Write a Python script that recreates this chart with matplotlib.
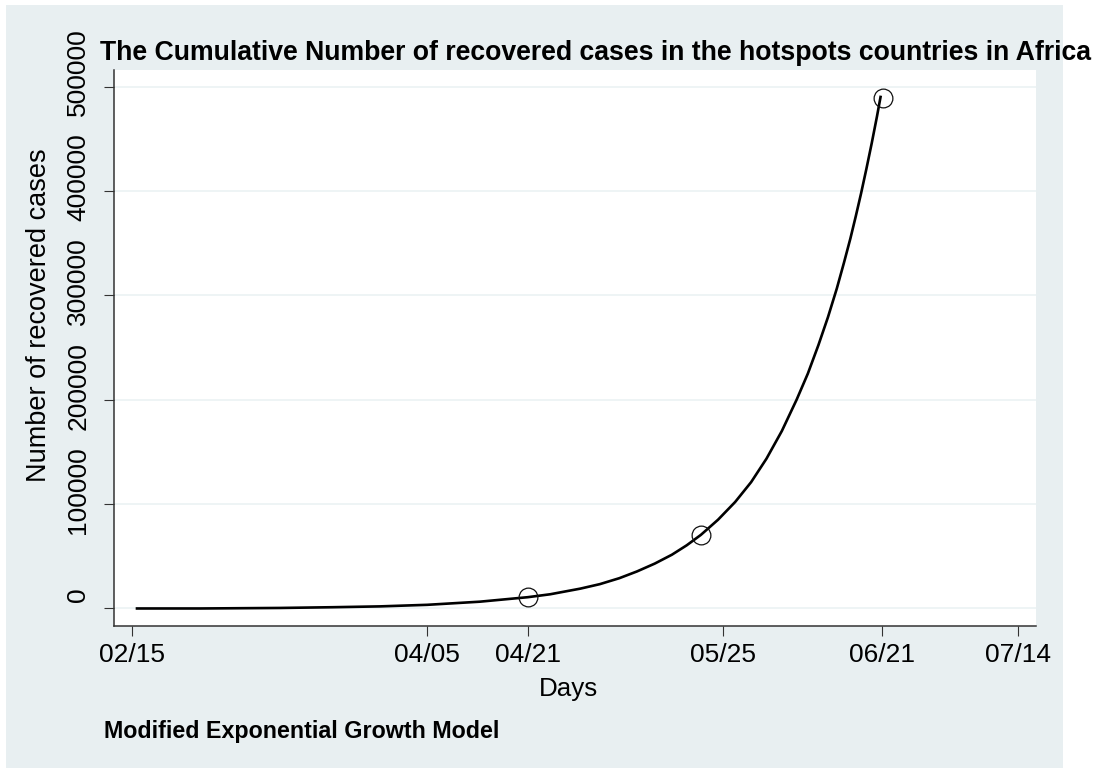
import matplotlib

matplotlib.use("Agg")
import matplotlib.pyplot as plt
from matplotlib.patches import Rectangle
from matplotlib.transforms import ScaledTranslation

# Fitted modified-exponential curve (day of year, cumulative recovered cases)
curve_days = [46.9, 57.6, 71.1, 80.0, 88.0, 96.0, 104.9, 113.0, 116.8,
              121.9, 125.2, 128.5, 131.5, 134.5, 137.4, 139.9, 142.3,
              145.2, 148.1, 150.8, 153.4, 156.0, 158.5, 160.4, 162.2,
              163.8, 165.3, 166.5, 167.6, 168.5, 169.4, 170.3, 171.2,
              172.1, 172.7]
curve_cases = [0, 0, 500, 1200, 2000, 3500, 6500, 10800, 13600,
               19000, 23300, 29000, 35500, 43000, 51500, 60500, 70500,
               85000, 102000, 121000, 143500, 170000, 200000, 225000, 252500,
               279000, 306500, 331000, 354500, 375500, 397500, 421000, 445500,
               471500, 490000]

# Observed cumulative recoveries
obs_days = [113.0, 142.3, 173.1]
obs_cases = [10800, 70500, 488700]

tick_days = [46, 96, 113, 146, 173, 196]
tick_labels = ["02/15", "04/05", "04/21", "05/25", "06/21", "07/14"]
y_ticks = [0, 100000, 200000, 300000, 400000, 500000]

BG = "#e8eff1"
GRID = "#eaf1f3"
AXIS = "#333333"
W, H = 1097, 772


def main() -> None:
    plt.rcParams["font.family"] = ["Liberation Sans", "DejaVu Sans"]
    fig = plt.figure(figsize=(W / 100, H / 100), dpi=100)
    fig.patch.set_facecolor("white")
    fig.add_artist(Rectangle((6 / W, 1 - 768 / H), (1063 - 6) / W, (768 - 5) / H,
                             transform=fig.transFigure, facecolor=BG,
                             edgecolor="none", zorder=-10))

    ax = fig.add_axes([114.3 / W, 1 - 625.7 / H, (1036 - 114.3) / W,
                       (625.7 - 69.7) / H])
    ax.set_facecolor("white")
    for s in ("top", "right"):
        ax.spines[s].set_visible(False)
    for s in ("left", "bottom"):
        ax.spines[s].set_color(AXIS)
        ax.spines[s].set_linewidth(1.1)

    ax.plot(curve_days, curve_cases, color="black", lw=1.9,
            solid_joinstyle="round", zorder=3)
    ax.plot(obs_days, obs_cases, ls="none", marker="o", ms=13.5,
            mfc="none", mec="#111111", mew=0.9, zorder=4)

    ax.set_xlim(43.06, 199.0)
    ax.set_ylim(-16500, 516100)
    ax.set_xticks(tick_days)
    ax.set_xticklabels(tick_labels)
    ax.set_yticks(y_ticks)
    ax.set_yticklabels([str(v) for v in y_ticks], rotation=90,
                       va="center", ha="right")
    ax.grid(axis="y", color=GRID, lw=1.1)
    ax.set_axisbelow(True)
    ax.tick_params(axis="both", direction="out", length=7.2, width=0.8,
                   color=AXIS, labelsize=19, labelcolor="black")
    ax.tick_params(axis="x", pad=5)
    ax.tick_params(axis="y", pad=10)

    # rotated y labels sit a little above their ticks
    shift = ScaledTranslation(0, 14 / 100, fig.dpi_scale_trans)
    for lab in ax.get_yticklabels():
        lab.set_transform(lab.get_transform() + shift)

    fig.text(39 / W, 1 - 315 / H, "Number of recovered cases", rotation=90,
             ha="center", va="center", fontsize=19.5)
    fig.text(569 / W, 1 - 696 / H, "Days", ha="center", va="baseline",
             fontsize=18.7)
    fig.text(100 / W, 1 - 60 / H,
             "The Cumulative Number of recovered cases in the hotspots "
             "countries in Africa",
             ha="left", va="baseline", fontsize=19.2, fontweight="bold")
    fig.text(104 / W, 1 - 738.3 / H, "Modified Exponential Growth Model",
             ha="left", va="baseline", fontsize=16.75, fontweight="bold")

    fig.savefig("out.png", dpi=100)


if __name__ == "__main__":
    main()
